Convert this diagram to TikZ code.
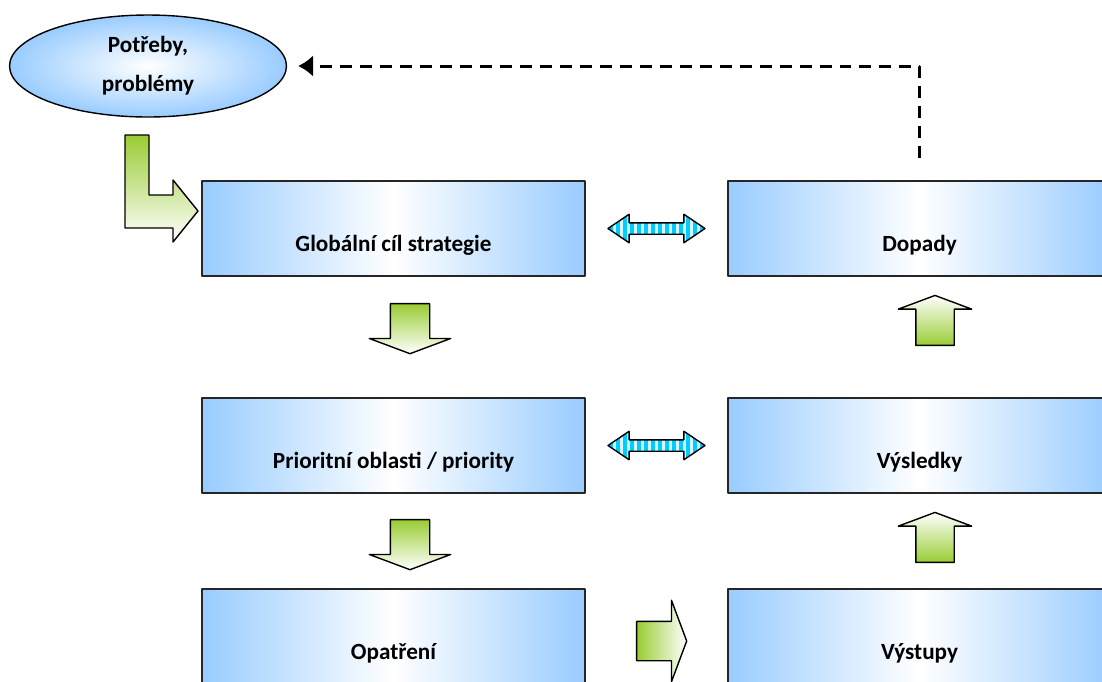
\documentclass[tikz,border=0pt]{standalone}
\usepackage{fontspec}
\setmainfont{Carlito}
\usetikzlibrary{shapes.geometric,shapes.arrows,arrows.meta}

\definecolor{boxblue}{RGB}{153,204,255}
\definecolor{arrgreen}{RGB}{153,204,51}
\definecolor{stripcyan}{RGB}{0,204,255}

\tikzset{
  stepbox/.style={draw=black!85, line width=1.2pt, minimum width=7.66cm, minimum height=1.9cm,
    left color=boxblue, right color=boxblue, middle color=white,
    font=\bfseries\fontsize{13.2}{15}\selectfont, text height=0.9cm, text depth=0pt, inner sep=0pt},
  needell/.style={ellipse, draw=black, line width=0.8pt, minimum width=5.54cm, minimum height=2.04cm,
    inner color=white, outer color=boxblue, align=center, font=\bfseries\fontsize{13.2}{22}\selectfont},
  blockarr/.style={single arrow, draw=black, line width=0.8pt, minimum height=1cm,
    inner xsep=0pt, inner ysep=0.38cm, single arrow head extend=0.42cm, single arrow tip angle=139},
  downarr/.style={blockarr, rotate=-90, top color=arrgreen, bottom color=white},
  uparr/.style={blockarr, rotate=90, inner ysep=0.37cm, single arrow head extend=0.35cm,
    bottom color=arrgreen, top color=white},
  rightarr/.style={blockarr, left color=arrgreen, right color=white},
  dblarr/.style={double arrow, draw=black, line width=0.8pt, minimum height=1.94cm,
    inner xsep=0pt, inner ysep=0.1cm, double arrow head extend=0.17cm, double arrow tip angle=68,
    fill=stripcyan,
    path picture={\foreach \k in {-7,...,7}
      \fill[white!85!stripcyan] ([xshift=\k*0.14cm-0.03cm]path picture bounding box.south)
        rectangle ([xshift=\k*0.14cm+0.03cm]path picture bounding box.north);}},
  backline/.style={dashed, dash pattern=on 0.24cm off 0.16cm, line width=1.7pt,
    -{Latex[length=0.3cm,width=0.44cm]}}
}

\begin{document}
\begin{tikzpicture}[x=0.02cm, y=-0.02cm, line join=round]
\clip (0,0) rectangle (1102,681);

% needs and strategy boxes
\node[needell] (need) at (148,66) {Potřeby,\\problémy};
\node[stepbox] (glob) at (393.5,228.5) {Globální cíl strategie};
\node[stepbox] (prio) at (393.5,445.5) {Prioritní oblasti / priority};
\node[stepbox] (opat) at (393.5,636.5) {Opatření};
\node[stepbox] (dop) at (919.5,228.5) {Dopady};
\node[stepbox] (vysl) at (919.5,445.5) {Výsledky};
\node[stepbox] (vyst) at (919.5,636.5) {Výstupy};

% block arrows
\node[downarr] (d1) at (410,325) {};
\node[downarr] (d2) at (410,541) {};
\node[uparr] (u1) at (935,324) {};
\node[uparr] (u2) at (935,541) {};
\node[rightarr] (r1) at (658,641) {};
\node[dblarr] (b1) at (656.5,228.5) {};
\node[dblarr] (b2) at (656.5,445.5) {};

% L-shaped arrow into the goal
\draw[draw=black, line width=0.8pt, top color=arrgreen, bottom color=white]
  (125,135) -- (149,135) -- (149,195) -- (173,195) -- (173,180) -- (198,211)
  -- (173,242) -- (173,228) -- (125,228) -- cycle;

% feedback
\draw[backline] ([yshift=0.44cm]dop.north) |- ([xshift=0.22cm]need.east);
\end{tikzpicture}
\end{document}
